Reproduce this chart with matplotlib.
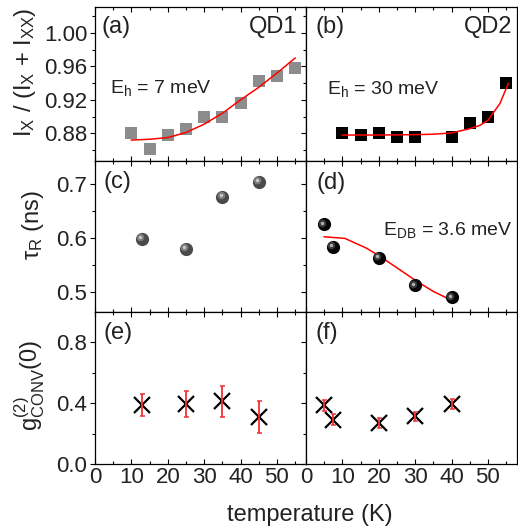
import numpy as np
import matplotlib
matplotlib.use("Agg")
import matplotlib.pyplot as plt
import matplotlib.transforms as mtrans

plt.rcParams['font.family'] = ['Liberation Sans', 'DejaVu Sans']
plt.rcParams['mathtext.default'] = 'regular'
plt.rcParams['axes.linewidth'] = 0.9

# (a) QD1 intensity ratio
Ta = [10, 15, 20, 25, 30, 35, 40, 45, 50, 55]
Ra = [0.881, 0.861, 0.878, 0.885, 0.900, 0.900, 0.916, 0.942, 0.948, 0.958]
Ta_fit = [10, 15, 20, 25, 30, 35, 40, 45, 50, 55]
Ra_fit = [0.872, 0.873, 0.875, 0.881, 0.891, 0.904, 0.920, 0.935, 0.952, 0.970]
# (b) QD2 intensity ratio
Tb = [10, 15, 20, 25, 30, 40, 45, 50, 55]
Rb = [0.881, 0.878, 0.881, 0.876, 0.876, 0.876, 0.893, 0.900, 0.940]
Tb_fit = [10, 20, 30, 35, 40, 45, 47.8, 50, 53.3, 55.6]
Rb_fit = [0.878, 0.878, 0.8785, 0.879, 0.8805, 0.8856, 0.8896, 0.8956, 0.9156, 0.9396]
# (c) QD1 lifetime
Tc = [13, 25, 35, 45]
tau_c = [0.598, 0.579, 0.676, 0.704]
# (d) QD2 lifetime
Td = [5, 7.5, 20, 30, 40]
tau_d = [0.625, 0.584, 0.563, 0.512, 0.490]
Td_fit = [5, 10.7, 16.6, 20.3, 25.8, 30.4, 35, 40.5]
tau_d_fit = [0.602, 0.599, 0.581, 0.566, 0.541, 0.520, 0.501, 0.483]
# (e) QD1 g2
Te = [13, 25, 35, 45]
g2_e = [0.387, 0.393, 0.413, 0.309]
g2_e_err = [0.072, 0.087, 0.102, 0.103]
# (f) QD2 g2
Tf = [5, 7.5, 20, 30, 40]
g2_f = [0.387, 0.291, 0.269, 0.313, 0.393]
g2_f_err = [0.037, 0.035, 0.035, 0.030, 0.033]

W, H = 518, 528
fig = plt.figure(figsize=(W / 100, H / 100), dpi=100)

def box(x0, y0, x1, y1):
    return [x0 / W, 1 - y1 / H, (x1 - x0) / W, (y1 - y0) / H]

rows = [(7, 161), (161, 312), (312, 464)]
cols = [(95, 306), (306, 517)]
axs = [[fig.add_axes(box(c[0], r[0], c[1], r[1])) for c in cols] for r in rows]

tc = '#222222'
for i, row in enumerate(axs):
    for j, ax in enumerate(row):
        ax.set_xlim(0, 58)
        ax.set_xticks([0, 10, 20, 30, 40, 50])
        ax.set_xticks(np.arange(0, 58, 5), minor=True)
        ax.tick_params(axis='x', which='both', direction='in', top=True, bottom=True,
                       labelsize=16, labelcolor=tc, pad=2)
        ax.tick_params(axis='y', which='both', direction='out', labelsize=16,
                       labelcolor=tc, pad=2)
        ax.tick_params(which='major', length=3.5, width=0.8)
        ax.tick_params(which='minor', length=2, width=0.8)
        if i < 2:
            ax.tick_params(axis='x', labelbottom=False)
        if j == 1:
            ax.tick_params(axis='y', labelleft=False)

for ax in axs[0]:
    ax.set_ylim(0.847, 1.031)
    ax.set_yticks([0.88, 0.92, 0.96, 1.00])
    ax.set_yticks([0.86, 0.90, 0.94, 0.98, 1.02], minor=True)
    ax.set_yticklabels(['0.88', '0.92', '0.96', '1.00'])
for ax in axs[1]:
    ax.set_ylim(0.463, 0.742)
    ax.set_yticks([0.5, 0.6, 0.7])
    ax.set_yticks([0.55, 0.65], minor=True)
for ax in axs[2]:
    ax.set_ylim(0, 1.0)
    ax.set_yticks([0.0, 0.4, 0.8])
    ax.set_yticks([0.2, 0.6], minor=True)

# top row
ax = axs[0][0]
ax.plot(Ta, Ra, 's', color='#8c8c8c', ms=9, mew=0, zorder=2)
ax.plot(Ta_fit, Ra_fit, '-', color='#ff0000', lw=1.1, zorder=3)
ax = axs[0][1]
ax.plot(Tb, Rb, 's', color='black', ms=9, mew=0, zorder=2)
ax.plot(Tb_fit, Rb_fit, '-', color='#ff0000', lw=1.1, zorder=3)

# spheres
def spheres(ax, x, y, base, mid, light):
    tr = mtrans.offset_copy(ax.transData, fig=fig, x=-1.3, y=1.3, units='points')
    ax.plot(x, y, 'o', ms=9.5, color=base, mew=0, zorder=3)
    ax.plot(x, y, 'o', ms=5.5, color=mid, mew=0, transform=tr, zorder=4)
    ax.plot(x, y, 'o', ms=2.5, color=light, mew=0, transform=tr, zorder=5)

axs[1][1].plot(Td_fit, tau_d_fit, '-', color='#ff0000', lw=1.1, zorder=2)
spheres(axs[1][0], Tc, tau_c, '#4a4a4a', '#7a7a7a', '#c8c8c8')
spheres(axs[1][1], Td, tau_d, '#050505', '#3a3a3a', '#b0b0b0')

# g2 panels
for ax, T, g, e in [(axs[2][0], Te, g2_e, g2_e_err), (axs[2][1], Tf, g2_f, g2_f_err)]:
    ax.plot(T, g, 'x', color='black', ms=11, mew=1.6, zorder=2)
    ax.errorbar(T, g, yerr=e, fmt='none', ecolor='#f03030', elinewidth=1.3,
                capsize=1.8, capthick=1.1, zorder=3)

# panel texts
fs = 17
axs[0][0].text(0.033, 0.87, '(a)', transform=axs[0][0].transAxes, fontsize=fs, color=tc, va='center')
axs[0][0].text(0.957, 0.87, 'QD1', transform=axs[0][0].transAxes, fontsize=fs, color=tc, va='center', ha='right')
axs[0][0].text(0.071, 0.474, 'E$_h$ = 7 meV', transform=axs[0][0].transAxes, fontsize=14, color=tc, va='center')
axs[0][1].text(0.043, 0.87, '(b)', transform=axs[0][1].transAxes, fontsize=fs, color=tc, va='center')
axs[0][1].text(0.976, 0.87, 'QD2', transform=axs[0][1].transAxes, fontsize=fs, color=tc, va='center', ha='right')
axs[0][1].text(0.10, 0.467, 'E$_h$ = 30 meV', transform=axs[0][1].transAxes, fontsize=14, color=tc, va='center')
axs[1][0].text(0.038, 0.862, '(c)', transform=axs[1][0].transAxes, fontsize=fs, color=tc, va='center')
axs[1][1].text(0.052, 0.855, '(d)', transform=axs[1][1].transAxes, fontsize=fs, color=tc, va='center')
axs[1][1].text(0.365, 0.546, 'E$_{DB}$ = 3.6 meV', transform=axs[1][1].transAxes, fontsize=14, color=tc, va='center')
axs[2][0].text(0.038, 0.86, '(e)', transform=axs[2][0].transAxes, fontsize=fs, color=tc, va='center')
axs[2][1].text(0.043, 0.86, '(f)', transform=axs[2][1].transAxes, fontsize=fs, color=tc, va='center')

# axis labels
fig.text(310 / W, 1 - 515 / H, 'temperature (K)', fontsize=17, color=tc, ha='center', va='center')
fig.text(25 / W, 1 - 72 / H, 'I$_X$ / (I$_X$ + I$_{XX}$)', fontsize=17, color=tc,
         ha='center', va='center', rotation=90)
fig.text(33 / W, 1 - 225 / H, r'$\tau_R$ (ns)', fontsize=17, color=tc,
         ha='center', va='center', rotation=90)
fig.text(30 / W, 1 - 385 / H, 'g$^{(2)}_{CONV}$(0)', fontsize=17, color=tc,
         ha='center', va='center', rotation=90)

fig.savefig("out.png", dpi=100)
